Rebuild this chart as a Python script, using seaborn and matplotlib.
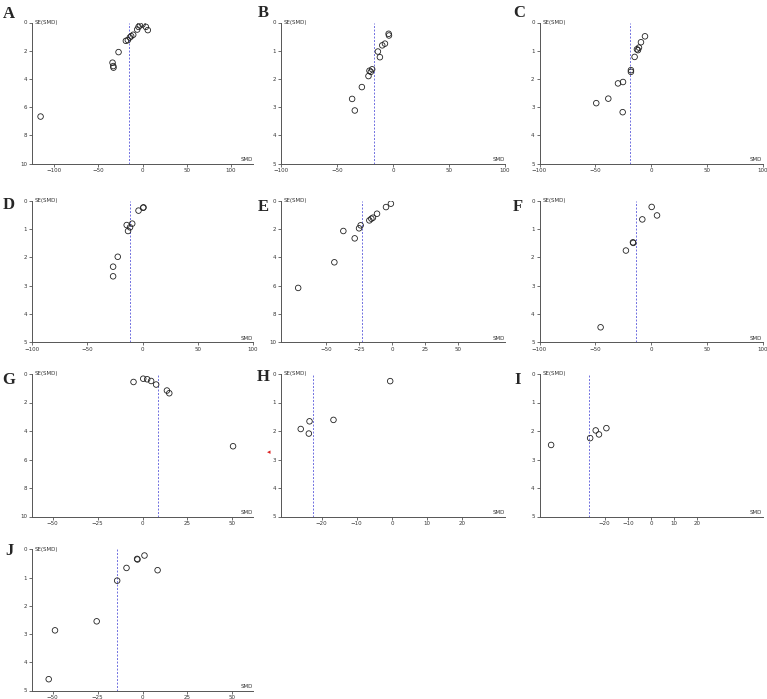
import matplotlib
matplotlib.use("Agg")
import matplotlib.pyplot as plt
import seaborn as sns
import pandas as pd

sns.set_style("white")
plt.rcParams["font.family"] = ["DejaVu Sans"]

# ---------------- data ----------------
panels = ["A", "B", "C", "D", "E", "F", "G", "H", "I", "J"]

a_smd = [-115.3, -33.9, -33.1, -32.8, -27.1, -18.8, -16.6, -14.3, -12.8, -10.5, -6.0, -4.5, -3.0, 0.0, 3.8, 6.0]
a_se = [6.67, 2.85, 3.09, 3.20, 2.10, 1.30, 1.25, 1.06, 0.97, 0.87, 0.50, 0.31, 0.21, 0.14, 0.31, 0.54]

b_smd = [-3.9, -3.6, -7.2, -9.6, -13.5, -11.7, -18.6, -21.0, -19.8, -21.9, -27.8, -36.5, -34.1]
b_se = [0.40, 0.46, 0.75, 0.81, 1.03, 1.23, 1.66, 1.71, 1.75, 1.90, 2.29, 2.71, 3.12]

c_smd = [-5.4, -9.0, -10.8, -12.6, -11.7, -14.7, -18.0, -18.0, -25.1, -29.6, -38.3, -49.1, -25.4]
c_se = [0.49, 0.70, 0.89, 0.95, 0.98, 1.22, 1.69, 1.75, 2.11, 2.16, 2.70, 2.86, 3.18]

d_smd = [0.9, 0.6, -3.6, -9.3, -14.3, -11.3, -13.1, -22.4, -26.6, -26.6]
d_se = [0.235, 0.25, 0.35, 0.81, 0.86, 0.94, 1.07, 1.98, 2.33, 2.67]

e_smd = [-0.8, -4.5, -11.3, -14.4, -15.6, -17.1, -23.7, -24.9, -36.8, -28.2, -43.6, -71.0]
e_se = [0.21, 0.45, 0.92, 1.20, 1.27, 1.39, 1.74, 1.95, 2.14, 2.66, 4.35, 6.16]

f_smd = [0.6, 5.4, -7.8, -16.2, -15.9, -22.5, -45.2]
f_se = [0.22, 0.52, 0.66, 1.47, 1.49, 1.76, 4.47]

g_smd = [-5.0, 0.4, 2.6, 4.8, 7.6, 13.6, 14.9, 50.4]
g_se = [0.56, 0.33, 0.37, 0.49, 0.74, 1.16, 1.35, 5.07]

h_smd = [-0.5, -16.6, -23.4, -25.9, -23.6]
h_se = [0.25, 1.61, 1.66, 1.93, 2.09]

i_smd = [-43.0, -26.2, -23.8, -22.4, -19.2]
i_se = [2.49, 2.25, 1.98, 2.12, 1.90]

j_smd = [1.1, -3.0, -2.8, -8.9, 8.4, -14.1, -25.5, -48.7, -52.2]
j_se = [0.22, 0.34, 0.36, 0.66, 0.74, 1.11, 2.55, 2.87, 4.60]

pooled_smd = [-15.1, -17.4, -19.2, -11.6, -22.7, -13.5, 8.6, -22.4, -26.8, -14.1]

x_ticks = [
    [-100, -50, 0, 50, 100], [-100, -50, 0, 50, 100], [-100, -50, 0, 50, 100],
    [-100, -50, 0, 50, 100], [-50, -25, 0, 25, 50], [-100, -50, 0, 50, 100],
    [-50, -25, 0, 25, 50], [-20, -10, 0, 10, 20], [-20, -10, 0, 10, 20],
    [-50, -25, 0, 25, 50],
]
y_ticks = [
    [0, 2, 4, 6, 8, 10], [0, 1, 2, 3, 4, 5], [0, 1, 2, 3, 4, 5],
    [0, 1, 2, 3, 4, 5], [0, 2, 4, 6, 8, 10], [0, 1, 2, 3, 4, 5],
    [0, 2, 4, 6, 8, 10], [0, 1, 2, 3, 4, 5], [0, 1, 2, 3, 4, 5],
    [0, 1, 2, 3, 4, 5],
]

smd_all = [a_smd, b_smd, c_smd, d_smd, e_smd, f_smd, g_smd, h_smd, i_smd, j_smd]
se_all = [a_se, b_se, c_se, d_se, e_se, f_se, g_se, h_se, i_se, j_se]

# ---------------- layout (pixels) ----------------
W, H = 767, 699
fig = plt.figure(figsize=(W / 100, H / 100), dpi=100)
fig.patch.set_facecolor("white")

cols = [(32, 253), (281, 505), (539.5, 762.5)]
rows = [(22.5, 163.5), (200.7, 342.3), (374.0, 516.5), (549.3, 690.5)]
xlims = [(-125, 125), (-100, 100), (-100, 100), (-100, 100), (-84, 85.6),
         (-100, 100), (-61.5, 61.5), (-31.5, 32.1), (-48, 48), (-61.5, 61.5)]
letter_pos = [(3, 6), (258, 5), (513, 5), (3, 197), (258, 199), (513, 199),
              (2, 372), (257, 369), (514, 372), (5, 543)]

spine_col = "#555555"
line_col = "#6f6fe0"

for k, name in enumerate(panels):
    r, c = divmod(k, 3)
    x0, x1 = cols[c]
    y0, y1 = rows[r]
    ax = fig.add_axes([x0 / W, 1 - y1 / H, (x1 - x0) / W, (y1 - y0) / H])
    df = pd.DataFrame({"SMD": smd_all[k], "SE": se_all[k]})
    sns.scatterplot(data=df, x="SMD", y="SE", ax=ax, marker="o", s=16,
                    facecolor="none", edgecolor="#222222", linewidth=0.6,
                    legend=False, zorder=3)
    ymax = y_ticks[k][-1]
    ax.axvline(pooled_smd[k], color=line_col, lw=0.7, ls=(0, (2.0, 1.6)), zorder=2)
    ax.set_xlim(*xlims[k])
    ax.set_ylim(ymax, 0)
    ax.set_xticks(x_ticks[k])
    ax.set_yticks(y_ticks[k])
    ax.set_xlabel("")
    ax.set_ylabel("")
    for side in ["top", "right"]:
        ax.spines[side].set_visible(False)
    for side in ["left", "bottom"]:
        ax.spines[side].set_color(spine_col)
        ax.spines[side].set_linewidth(0.7)
    ax.tick_params(axis="both", which="both", length=2, width=0.6, color=spine_col,
                   labelsize=4, pad=1.5, labelcolor="#333333", direction="out",
                   bottom=True, left=True)
    ax.set_facecolor("white")
    ax.text(0.012, 1.0, "SE(SMD)", transform=ax.transAxes, fontsize=4,
            ha="left", va="center", color="#333333")
    ax.text(1.0, 0.012, "SMD", transform=ax.transAxes, fontsize=4,
            ha="right", va="bottom", color="#333333")
    lx, ly = letter_pos[k]
    fig.text(lx / W, 1 - ly / H, name, fontsize=12, fontweight="bold",
             family=["Liberation Serif", "DejaVu Serif"], ha="left", va="top")

# small red mark seen left of panel H
fig.text(268.5 / W, 1 - 452.5 / H, "\u25c2", color="#dd2222", fontsize=5,
         ha="center", va="center")

fig.savefig("out.png", dpi=100, facecolor="white")
